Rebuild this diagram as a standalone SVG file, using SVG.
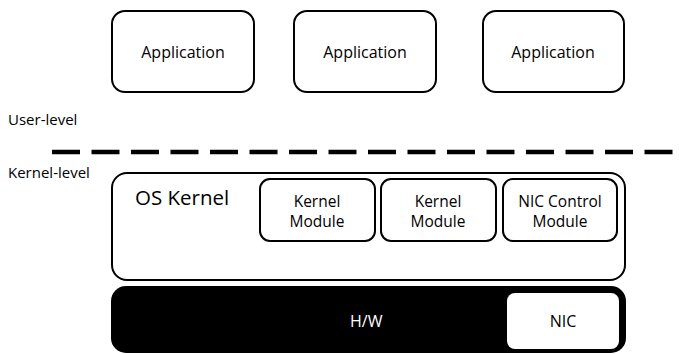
<svg xmlns="http://www.w3.org/2000/svg" width="679" height="354" viewBox="0 0 679 354">
<style>
text{font-family:"Open Sans","Noto Sans","DejaVu Sans",sans-serif;fill:#000}
.box{fill:#fff;stroke:#000;stroke-width:2}
.t16{font-size:16px;text-anchor:middle}
.t15{font-size:15.5px;text-anchor:middle}
.lbl{font-size:15px}
</style>
<rect width="679" height="354" fill="#fff"/>
<g id="app1"><rect class="box" x="112" y="11" width="142" height="81" rx="13"/><text class="t16" x="183" y="58">Application</text></g>
<g id="app2"><rect class="box" x="294" y="11" width="142" height="81" rx="13"/><text class="t16" x="365" y="58">Application</text></g>
<g id="app3"><rect class="box" x="483" y="11" width="141" height="81" rx="13"/><text class="t16" x="553" y="58">Application</text></g>
<text class="lbl" x="8" y="125">User-level</text>
<g id="connectors"><line x1="52" y1="152" x2="673" y2="152" stroke="#000" stroke-width="4.5" stroke-dasharray="28 11.5"/></g>
<text class="lbl" x="8" y="178">Kernel-level</text>
<g id="oskernel"><rect class="box" x="112" y="173" width="513" height="107" rx="15"/><text x="135" y="205" font-size="20.5">OS Kernel</text></g>
<g id="km1"><rect class="box" x="260" y="179" width="115" height="62" rx="10"/><text class="t15" x="317" y="207">Kernel</text><text class="t15" x="317" y="227">Module</text></g>
<g id="km2"><rect class="box" x="381" y="179" width="115" height="62" rx="10"/><text class="t15" x="438" y="207">Kernel</text><text class="t15" x="438" y="227">Module</text></g>
<g id="nicctl"><rect class="box" x="503" y="179" width="114" height="62" rx="10"/><text class="t15" x="560" y="207">NIC Control</text><text class="t15" x="560" y="227">Module</text></g>
<g id="hw"><rect x="111" y="286" width="515" height="67" rx="15" fill="#000"/><text x="350" y="327" font-size="16" style="fill:#fff">H/W</text></g>
<g id="nic"><rect x="507" y="293" width="112" height="56" rx="8" fill="#fff"/><text class="t16" x="563" y="327">NIC</text></g>
</svg>
